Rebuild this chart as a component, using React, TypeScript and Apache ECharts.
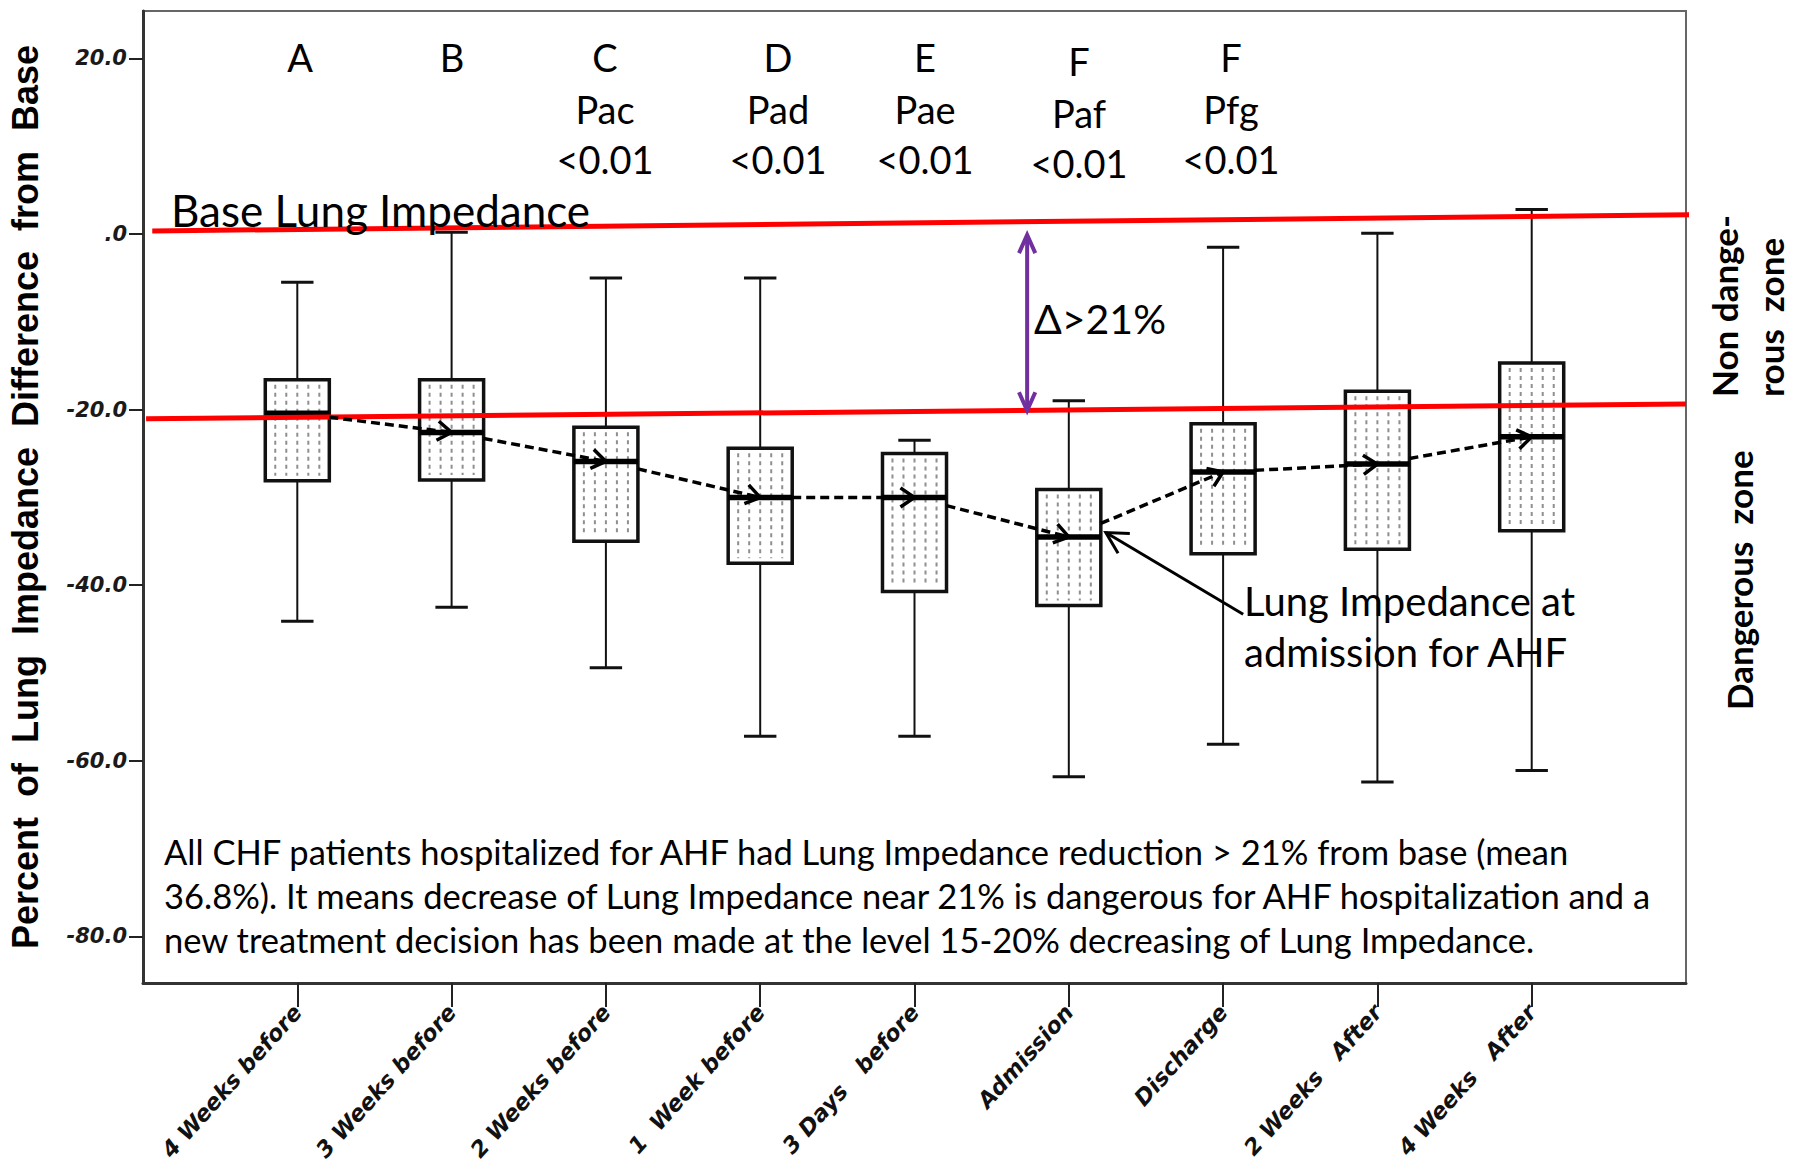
import React, { useEffect, useRef } from 'react';
import * as echarts from 'echarts';

// ---------- data ----------
const categories = [
  '4 Weeks before',
  '3 Weeks before',
  '2 Weeks before',
  '1  Week before',
  '3 Days   before',
  'Admission',
  'Discharge',
  '2 Weeks   After',
  '4 Weeks   After',
];
const lowWhisker = [-44.1, -42.5, -49.4, -57.2, -57.2, -61.8, -58.1, -62.4, -61.1];
const q1 = [-28.1, -28.0, -35.0, -37.5, -40.7, -42.3, -36.4, -35.9, -33.8];
const median = [-20.4, -22.6, -25.9, -30.0, -30.0, -34.5, -27.1, -26.2, -23.1];
const q3 = [-16.6, -16.6, -22.0, -24.4, -25.0, -29.1, -21.6, -17.9, -14.7];
const highWhisker = [-5.5, 0.2, -5.0, -5.0, -23.5, -19.0, -1.5, 0.1, 2.8];
const yTicks = [-80, -60, -40, -20, 0, 20];
const xTicks = [1, 2, 3, 4, 5, 6, 7, 8, 9];

const baseLine = [[0.06, 0.35], [10.04, 2.2]];
const dangerLine = [[0.02, -21.05], [10.0, -19.35]];
const deltaArrow = [[5.73, -0.1, 5.73, -20.1]];
const admissionArrow = [[7.13, -43.3, 6.24, -34.0]];

const topLetters = ['A', 'B', 'C', 'D', 'E', 'F', 'F'];
const pNames = ['', '', 'Pac', 'Pad', 'Pae', 'Paf', 'Pfg'];
const pValues = ['', '', '<0.01', '<0.01', '<0.01', '<0.01', '<0.01'];
const noteLines = [
  'All CHF patients hospitalized for AHF had Lung Impedance reduction > 21% from base (mean',
  '36.8%). It means decrease of Lung Impedance near 21% is dangerous for AHF hospitalization and a',
  'new treatment decision has been made at the level 15-20% decreasing of Lung Impedance.',
];

// ---------- layout ----------
const annotX = [300, 452, 605, 778, 925, 1079, 1231];
const annotDy = [0, 0, 0, 0, 0, 4, 0];
const BOX_W = 0.415;
const CAP_W = 0.21;
const TEXT_FONT = 'Lato, "Open Sans", sans-serif';

function seg(x1: number, y1: number, x2: number, y2: number, style: any) {
  return { type: 'line', shape: { x1, y1, x2, y2 }, style: { fill: null, ...style } };
}

function chevron(x0: number, y0: number, x1: number, y1: number, len: number, ang: number, style: any) {
  const back = Math.atan2(y0 - y1, x0 - x1);
  const a1 = back + ang;
  const a2 = back - ang;
  return {
    type: 'polyline',
    shape: {
      points: [
        [x1 + len * Math.cos(a1), y1 + len * Math.sin(a1)],
        [x1, y1],
        [x1 + len * Math.cos(a2), y1 + len * Math.sin(a2)],
      ],
    },
    style: { fill: null, ...style },
  };
}

function renderBox(params: any, api: any) {
  const x = api.value(0);
  const lo = api.coord([x, api.value(1)]);
  const b1 = api.coord([x, api.value(2)]);
  const md = api.coord([x, api.value(3)]);
  const b3 = api.coord([x, api.value(4)]);
  const hi = api.coord([x, api.value(5)]);
  const bw = api.size([BOX_W, 0])[0];
  const cw = api.size([CAP_W, 0])[0];
  const cx = lo[0];
  const left = cx - bw / 2;
  const wStyle = { stroke: '#111', lineWidth: 2 };
  const cStyle = { stroke: '#111', lineWidth: 3 };
  const children: any[] = [
    seg(cx, b1[1], cx, lo[1], wStyle),
    seg(cx - cw / 2, lo[1], cx + cw / 2, lo[1], cStyle),
    seg(cx, b3[1], cx, hi[1], wStyle),
    seg(cx - cw / 2, hi[1], cx + cw / 2, hi[1], cStyle),
    {
      type: 'rect',
      shape: { x: left, y: b3[1], width: bw, height: b1[1] - b3[1] },
      style: { fill: '#ffffff', stroke: '#111', lineWidth: 3.5 },
    },
  ];
  for (let k = -2; k <= 2; k++) {
    const dx = cx + k * bw * 0.172;
    children.push(
      seg(dx, b3[1] + 5, dx, b1[1] - 5, { stroke: '#8f8f8f', lineWidth: 2, lineDash: [4, 4] })
    );
  }
  children.push(seg(left, md[1], left + bw, md[1], { stroke: '#000', lineWidth: 5.5 }));
  return { type: 'group', children };
}

function makeArrowRenderer(color: string, width: number, dash: number[] | null, both: boolean, len: number, ang: number) {
  return (params: any, api: any) => {
    const p0 = api.coord([api.value(0), api.value(1)]);
    const p1 = api.coord([api.value(2), api.value(3)]);
    const st: any = { stroke: color, lineWidth: width };
    const lineSt: any = dash ? { ...st, lineDash: dash } : st;
    const children: any[] = [seg(p0[0], p0[1], p1[0], p1[1], lineSt)];
    children.push(chevron(p0[0], p0[1], p1[0], p1[1], len, ang, st));
    if (both) children.push(chevron(p1[0], p1[1], p0[0], p0[1], len, ang, st));
    return { type: 'group', children };
  };
}

const boxData = categories.map((_, i) => [i + 1, lowWhisker[i], q1[i], median[i], q3[i], highWhisker[i]]);
const connectorData = median.slice(0, -1).map((m, i) => {
  const slope = median[i + 1] - m;
  return [i + 1 + BOX_W / 2, m + slope * (BOX_W / 2), i + 2, median[i + 1]];
});

function txt(text: string, x: number, y: number, extra: any = {}) {
  return {
    type: 'text',
    x,
    y,
    z: 100,
    silent: true,
    rotation: extra.rotation || 0,
    style: {
      text,
      fill: '#000',
      fontFamily: TEXT_FONT,
      fontSize: extra.fontSize || 38,
      fontWeight: extra.fontWeight || 'normal',
      align: extra.align || 'center',
      textAlign: extra.align || 'center',
      verticalAlign: 'middle',
      textVerticalAlign: 'middle',
    },
  };
}

function buildOption() {
  const graphics: any[] = [];
  topLetters.forEach((t, i) => {
    graphics.push(txt(t, annotX[i], 57 + annotDy[i]));
    if (pNames[i]) graphics.push(txt(pNames[i], annotX[i], 109 + annotDy[i]));
    if (pValues[i]) graphics.push(txt(pValues[i], annotX[i], 159 + annotDy[i]));
  });
  graphics.push(txt('Base Lung Impedance', 171, 210, { align: 'left', fontSize: 44 }));
  graphics.push(txt('Δ>21%', 1034, 318, { align: 'left', fontSize: 41 }));
  graphics.push(txt('Lung Impedance at', 1244, 601, { align: 'left', fontSize: 40 }));
  graphics.push(txt('admission for AHF', 1244, 652, { align: 'left', fontSize: 40 }));
  noteLines.forEach((l, i) => graphics.push(txt(l, 164, 851 + i * 44, { align: 'left', fontSize: 34.5 })));
  graphics.push(txt('Non dange-', 1724, 397, { align: 'left', fontSize: 35, fontWeight: 'bold', rotation: Math.PI / 2 }));
  graphics.push(txt('rous  zone', 1770, 397, { align: 'left', fontSize: 35, fontWeight: 'bold', rotation: Math.PI / 2 }));
  graphics.push(txt('Dangerous  zone', 1739, 710, { align: 'left', fontSize: 35, fontWeight: 'bold', rotation: Math.PI / 2 }));

  return {
    animation: false,
    backgroundColor: '#ffffff',
    grid: {
      left: 143,
      right: 110,
      top: 11,
      bottom: 186,
      show: true,
      borderColor: '#666',
      borderWidth: 2,
      backgroundColor: 'transparent',
      containLabel: false,
      outerBoundsMode: 'none',
    },
    xAxis: {
      type: 'value',
      min: 0,
      max: 10,
      splitLine: { show: false },
      axisLine: { show: true, onZero: false, lineStyle: { color: '#333', width: 3 } },
      axisTick: { show: true, customValues: xTicks, length: 24, lineStyle: { color: '#222', width: 2 } },
      axisLabel: {
        show: true,
        customValues: xTicks,
        formatter: (v: number) => categories[Math.round(v) - 1] ?? '',
        rotate: 48,
        margin: 25,
        fontFamily: '"DejaVu Sans", sans-serif',
        fontWeight: 'bold',
        fontStyle: 'italic',
        fontSize: 22.5,
        color: '#111',
      },
    },
    yAxis: {
      type: 'value',
      min: -85.3,
      max: 25.4,
      name: 'Percent  of  Lung  Impedance  Difference  from  Base',
      nameLocation: 'middle',
      nameRotate: 90,
      nameGap: 100,
      nameTextStyle: {
        fontFamily: '"Liberation Sans", Arial, sans-serif',
        fontWeight: 'bold',
        fontSize: 36,
        color: '#000',
      },
      splitLine: { show: false },
      axisLine: { show: true, onZero: false, lineStyle: { color: '#333', width: 3 } },
      axisTick: { show: true, customValues: yTicks, length: 14, lineStyle: { color: '#222', width: 2 } },
      axisLabel: {
        show: true,
        customValues: yTicks,
        formatter: (v: number) => (v === 0 ? '.0' : v.toFixed(1)),
        margin: 16,
        fontFamily: '"DejaVu Sans", sans-serif',
        fontWeight: 'bold',
        fontStyle: 'italic',
        fontSize: 21,
        color: '#1a1a1a',
      },
    },
    graphic: graphics,
    series: [
      {
        type: 'custom',
        name: 'boxes',
        renderItem: renderBox,
        data: boxData,
        z: 2,
        silent: true,
      },
      {
        type: 'line',
        name: 'base',
        data: baseLine,
        showSymbol: false,
        symbol: 'none',
        clip: false,
        lineStyle: { color: '#ff0000', width: 5 },
        z: 5,
        silent: true,
      },
      {
        type: 'line',
        name: 'danger',
        data: dangerLine,
        showSymbol: false,
        symbol: 'none',
        clip: false,
        lineStyle: { color: '#ff0000', width: 5 },
        z: 5,
        silent: true,
      },
      {
        type: 'custom',
        name: 'connectors',
        renderItem: makeArrowRenderer('#000', 3.5, [9, 5], false, 17, 0.6),
        data: connectorData,
        z: 6,
        silent: true,
      },
      {
        type: 'custom',
        name: 'delta',
        renderItem: makeArrowRenderer('#7030a0', 4, null, true, 20, 0.42),
        data: deltaArrow,
        z: 7,
        silent: true,
      },
      {
        type: 'custom',
        name: 'admission',
        renderItem: makeArrowRenderer('#000', 3, null, false, 24, 0.5),
        data: admissionArrow,
        z: 7,
        silent: true,
      },
    ],
  };
}

export default function App() {
  const ref = useRef<HTMLDivElement>(null);
  useEffect(() => {
    document.body.style.margin = '0';
    const chart = echarts.init(ref.current as HTMLDivElement, null, { renderer: 'svg' });
    chart.setOption(buildOption() as any);
    return () => chart.dispose();
  }, []);
  return <div ref={ref} style={{ width: 1796, height: 1169 }} />;
}
